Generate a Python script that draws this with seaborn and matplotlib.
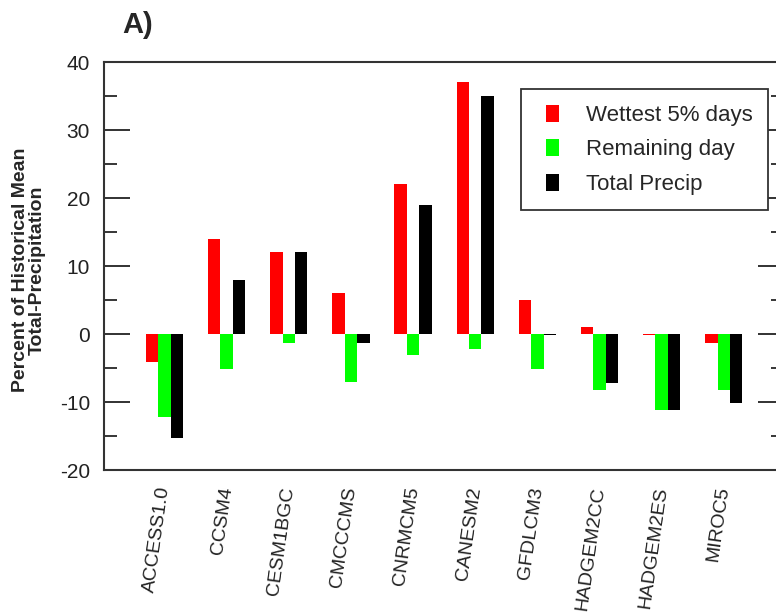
import matplotlib
matplotlib.use("Agg")
import matplotlib.pyplot as plt
from matplotlib.ticker import MultipleLocator
from matplotlib.patches import Rectangle
from matplotlib.legend_handler import HandlerPatch
import numpy as np
import pandas as pd
import seaborn as sns

# Change in precipitation per climate model, % of historical mean total precipitation
models = ["ACCESS1.0", "CCSM4", "CESM1BGC", "CMCCCMS", "CNRMCM5",
          "CANESM2", "GFDLCM3", "HADGEM2CC", "HADGEM2ES", "MIROC5"]
series_names = ["Wettest 5% days", "Remaining day", "Total Precip"]
wettest = [-4.1, 14.0, 12.0, 6.0, 22.0, 37.0, 5.0, 1.0, -0.2, -1.3]
remaining = [-12.2, -5.1, -1.3, -7.1, -3.1, -2.2, -5.1, -8.3, -11.2, -8.3]
total = [-15.3, 8.0, 12.0, -1.3, 19.0, 35.0, -0.2, -7.2, -11.2, -10.1]
colors = ["#ff0000", "#00ff00", "#000000"]

df = pd.DataFrame({
    "model": models * 3,
    "series": np.repeat(series_names, len(models)),
    "value": wettest + remaining + total,
})

sns.set_theme(style="white")
plt.rcParams["font.family"] = ["Liberation Sans", "DejaVu Sans"]
plt.rcParams["axes.unicode_minus"] = False

W, H = 776, 614
fig = plt.figure(figsize=(W / 100, H / 100), dpi=100)
ax = fig.add_axes([104 / W, 1 - 470 / H, 680 / W, 408 / H])

sns.barplot(data=df, x="model", y="value", hue="series", order=models,
            hue_order=series_names, palette=colors, width=0.6, gap=0,
            linewidth=0, saturation=1, errorbar=None, ax=ax)

ax.set_xlim(-0.974, 9.97)
ax.set_ylim(-20, 40)
ax.yaxis.set_major_locator(MultipleLocator(10))
ax.yaxis.set_minor_locator(MultipleLocator(5))
ax.tick_params(axis="y", which="major", direction="in", length=18.7, width=1.3,
               left=True, right=True, labelsize=15, pad=10, colors="#222222")
ax.tick_params(axis="y", which="minor", direction="in", length=9.4, width=1.3,
               left=True, right=True)
ax.tick_params(axis="x", length=0, pad=12, labelsize=14, colors="#222222")
for lbl in ax.get_xticklabels():
    lbl.set_rotation(82)
    lbl.set_ha("right")
    lbl.set_va("center")
    lbl.set_rotation_mode("anchor")

for sp in ax.spines.values():
    sp.set_visible(True)
    sp.set_color("#333333")
    sp.set_linewidth(1.5)

ax.set_xlabel("")
ax.set_ylabel("Percent of Historical Mean\nTotal-Precipitation", fontsize=14,
              fontweight="bold", linespacing=1.0)
ax.yaxis.set_label_coords(-0.085, 0.49)

fig.text(122 / W, 1 - 25 / H, "A)", fontsize=21, fontweight="bold",
         ha="left", va="center")


def swatch(legend, orig_handle, xdescent, ydescent, width, height, fontsize):
    # narrow colour key placed at the right end of the handle box
    w = 9.4
    return Rectangle((width - w - xdescent, -ydescent), w, height)


handles, labels = ax.get_legend_handles_labels()
leg = ax.legend(handles, labels, loc="upper right",
                bbox_to_anchor=(768 / W, 1 - 89 / H),
                bbox_transform=fig.transFigure, borderaxespad=0, fontsize=16,
                frameon=True, fancybox=False, framealpha=1,
                handlelength=1.0, handleheight=0.8, handletextpad=1.2,
                labelspacing=0.6, borderpad=0.7,
                handler_map={Rectangle: HandlerPatch(patch_func=swatch)})
leg.get_frame().set_edgecolor("#333333")
leg.get_frame().set_linewidth(1.3)

fig.savefig("out.png", dpi=100)
